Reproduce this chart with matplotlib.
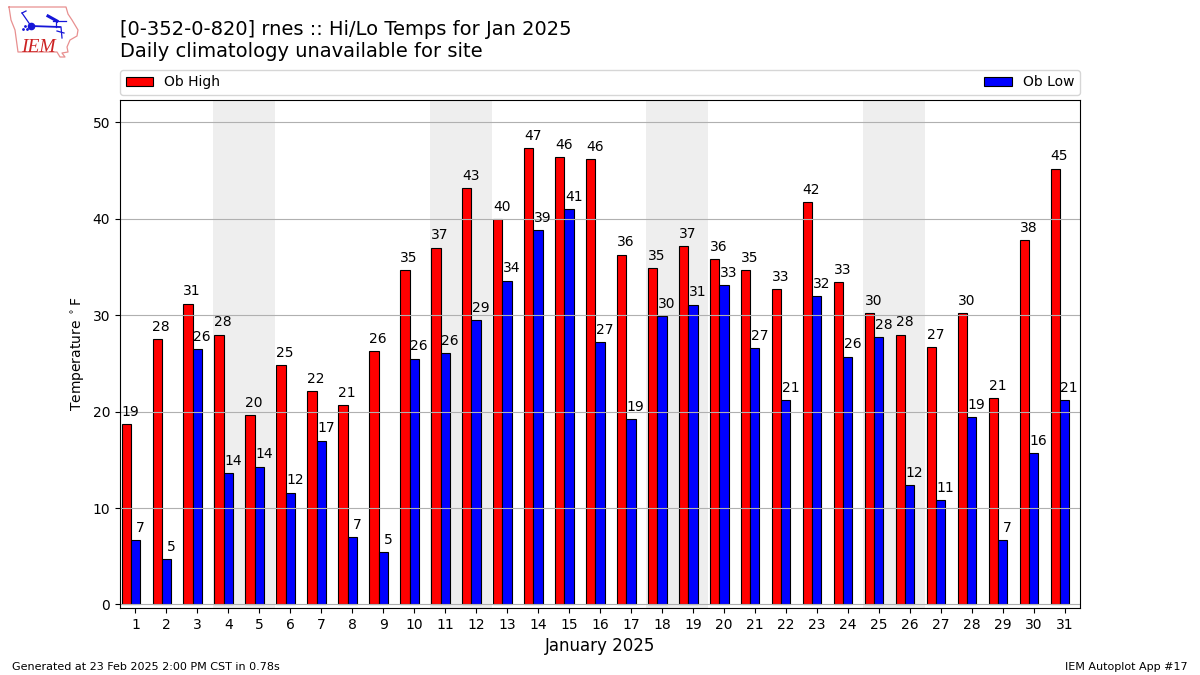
#!/usr/bin/env python3

import numpy as np
from matplotlib import pyplot as plt

days = list(range(1, 32))
ob_high = [18.7, 27.5, 31.2, 28.0, 19.6, 24.8, 22.1, 20.7, 26.3, 34.7, 37.0,
           43.2, 40.0, 47.3, 46.4, 46.2, 36.3, 34.9, 37.2, 35.8, 34.7, 32.7,
           41.7, 33.4, 30.2, 28.0, 26.7, 30.2, 21.4, 37.8, 45.2]
ob_low = [6.7, 4.7, 26.5, 13.6, 14.3, 11.6, 17.0, 7.0, 5.4, 25.5, 26.1,
          29.5, 33.6, 38.8, 41.0, 27.2, 19.2, 29.9, 31.1, 33.1, 26.6, 21.2,
          32.0, 25.7, 27.7, 12.4, 10.8, 19.4, 6.7, 15.7, 21.2]
high_labels = [19, 28, 31, 28, 20, 25, 22, 21, 26, 35, 37, 43, 40, 47, 46, 46,
               36, 35, 37, 36, 35, 33, 42, 33, 30, 28, 27, 30, 21, 38, 45]
low_labels = [7, 5, 26, 14, 14, 12, 17, 7, 5, 26, 26, 29, 34, 39, 41, 27,
              19, 30, 31, 33, 27, 21, 32, 26, 28, 12, 11, 19, 7, 16, 21]
weekend_starts = [4, 11, 18, 25]


def draw_logo(fig):
  # small pixel-space axes for the IEM logo in the top left corner
  ax = fig.add_axes([0, 1 - 65 / 675, 90 / 1200, 65 / 675])
  ax.set_xlim(0, 90)
  ax.set_ylim(65, 0)
  ax.axis("off")
  outline = [(9, 7), (66, 7), (68, 14), (72, 20), (78, 30), (77, 36), (70, 40),
             (67, 47), (68, 52), (62, 53), (65, 57), (60, 57), (57, 52),
             (18, 52), (15, 30), (11, 20), (9, 7)]
  ax.plot(*zip(*outline), color="#e89090", lw=0.9)
  blue = "#1515d8"
  ax.plot([31, 60], [26, 27], color=blue, lw=1.3)
  ax.plot([22, 31], [13, 26], color=blue, lw=0.9)
  ax.plot([22, 26], [13, 11], color=blue, lw=0.9)
  ax.plot([53, 66], [21, 21], color=blue, lw=0.9)
  ax.plot([48, 57], [16, 21], color=blue, lw=2.2)
  ax.plot([56, 56], [21, 27], color=blue, lw=0.9)
  ax.plot([61, 62], [27, 38], color=blue, lw=0.9)
  ax.plot([57, 64], [31, 33], color=blue, lw=0.9)
  ax.plot([31], [26], "o", color=blue, ms=4.5)
  ax.plot([23, 25, 27], [29, 26, 29], ".", color=blue, ms=2)
  ax.text(21, 52, "IEM", color="#cc2222", fontsize=14, style="italic",
          family="Liberation Serif", va="baseline", ha="left")


def main():
  fig = plt.figure(figsize=(12, 6.75), dpi=100)
  ax = fig.add_axes([120 / 1200, 1 - 608 / 675, 960 / 1200, 508 / 675])

  x = np.array(days)
  for start in weekend_starts:
    ax.axvspan(start - 0.5, start + 1.5, color="#eeeeee", lw=0, zorder=0)

  ax.bar(x - 0.3, ob_high, width=0.3, color="red", edgecolor="k", lw=0.8,
         label="Ob High")
  ax.bar(x, ob_low, width=0.3, color="blue", edgecolor="k", lw=0.8,
         label="Ob Low")

  for i, day in enumerate(days):
    ax.text(day - 0.17, ob_high[i] + 0.55, str(high_labels[i]), ha="center",
            va="bottom", fontsize=10)
    ax.text(day + 0.15, ob_low[i] + 0.55, str(low_labels[i]), ha="center",
            va="bottom", fontsize=10)

  ax.set_xlim(0.5, 31.5)
  ax.set_ylim(-0.37, 52.33)
  ax.set_xticks(days)
  ax.set_yticks([0, 10, 20, 30, 40, 50])
  ax.grid(True, axis="y")
  ax.set_xlabel("January 2025", fontsize=12)
  ax.set_ylabel(r"Temperature $^\circ$F")
  ax.legend(bbox_to_anchor=(0, 1.01, 1, 0.06), loc="lower left", ncol=2,
            mode="expand", borderaxespad=0, fontsize=10)

  fig.text(120 / 1200, 1 - 57 / 675, "[0-352-0-820] rnes :: Hi/Lo Temps for Jan 2025\n"
           "Daily climatology unavailable for site", fontsize=14, va="baseline",
           ha="left")
  fig.text(12 / 1200, 1 - 670 / 675, "Generated at 23 Feb 2025 2:00 PM CST in 0.78s",
           fontsize=8, ha="left", va="baseline")
  fig.text(1188 / 1200, 1 - 670 / 675, "IEM Autoplot App #17", fontsize=8, ha="right",
           va="baseline")

  draw_logo(fig)
  fig.savefig("out.png", dpi=100)


if __name__ == "__main__":
  main()
